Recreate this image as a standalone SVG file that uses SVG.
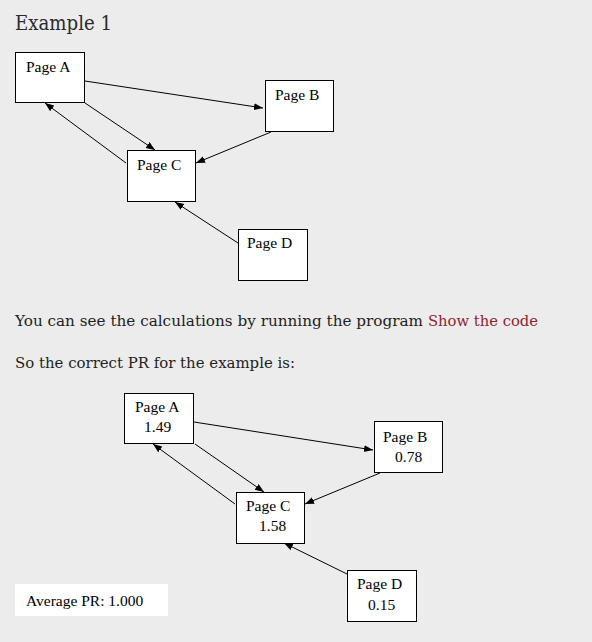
<svg xmlns="http://www.w3.org/2000/svg" width="592" height="642" viewBox="0 0 592 642">
<defs>
<marker id="ah" markerUnits="userSpaceOnUse" markerWidth="10" markerHeight="8" refX="9" refY="3.5" orient="auto">
<path d="M0,0 L9,3.5 L0,7 z" fill="#000"/>
</marker>
<style>
.box{fill:#fff;stroke:#000;stroke-width:1}
.lbl{font-family:"Liberation Serif","Times New Roman",serif;font-size:15.5px;fill:#000}
.body{font-family:"DejaVu Serif","Liberation Serif",serif;font-size:15px;fill:#1e1e1e}
.link{fill:#8e2430}
.con line{stroke:#000;stroke-width:1;marker-end:url(#ah)}
</style>
</defs>
<rect x="0" y="0" width="592" height="642" fill="#ececec"/>
<text class="body" x="15" y="30" style="font-size:21px;fill:#2a2a2a" textLength="97" lengthAdjust="spacingAndGlyphs">Example 1</text>

<g id="connectors-top" class="con">
<line x1="85" y1="81" x2="263" y2="108"/>
<line x1="85" y1="103" x2="155" y2="150"/>
<line x1="126" y1="163" x2="45" y2="103"/>
<line x1="271" y1="132" x2="196" y2="163"/>
<line x1="238" y1="243" x2="175" y2="202"/>
</g>
<g id="top-page-a"><rect class="box" x="15.5" y="52.5" width="69" height="50"/><text class="lbl" x="26" y="72">Page A</text></g>
<g id="top-page-b"><rect class="box" x="265.5" y="80.5" width="68" height="51"/><text class="lbl" x="275" y="100">Page B</text></g>
<g id="top-page-c"><rect class="box" x="127.5" y="150.5" width="68" height="51"/><text class="lbl" x="137" y="170">Page C</text></g>
<g id="top-page-d"><rect class="box" x="238.5" y="229.5" width="69" height="51"/><text class="lbl" x="247" y="248">Page D</text></g>

<text class="body" x="15" y="326" textLength="408" lengthAdjust="spacingAndGlyphs">You can see the calculations by running the program</text>
<text class="body link" x="428" y="326" textLength="110" lengthAdjust="spacingAndGlyphs">Show the code</text>
<text class="body" x="15" y="368" textLength="280" lengthAdjust="spacingAndGlyphs">So the correct PR for the example is:</text>

<g id="connectors-bottom" class="con">
<line x1="194" y1="422" x2="373" y2="450"/>
<line x1="195" y1="444" x2="264" y2="492"/>
<line x1="235" y1="504" x2="153" y2="444"/>
<line x1="380" y1="473" x2="305" y2="504"/>
<line x1="347" y1="574" x2="284" y2="543"/>
</g>
<g id="bottom-page-a"><rect class="box" x="124.5" y="393.5" width="69" height="50"/><text class="lbl" x="135" y="412">Page A</text><text class="lbl" x="144" y="432">1.49</text></g>
<g id="bottom-page-b"><rect class="box" x="374.5" y="421.5" width="68" height="51"/><text class="lbl" x="383" y="442">Page B</text><text class="lbl" x="395" y="462">0.78</text></g>
<g id="bottom-page-c"><rect class="box" x="236.5" y="492.5" width="68" height="51"/><text class="lbl" x="246" y="511">Page C</text><text class="lbl" x="259" y="531">1.58</text></g>
<g id="bottom-page-d"><rect class="box" x="347.5" y="570.5" width="69" height="51"/><text class="lbl" x="357" y="589">Page D</text><text class="lbl" x="368" y="610">0.15</text></g>

<g id="average-pr"><rect x="15" y="584" width="153" height="32" fill="#fff"/><text class="lbl" x="26" y="606">Average PR: 1.000</text></g>
</svg>
